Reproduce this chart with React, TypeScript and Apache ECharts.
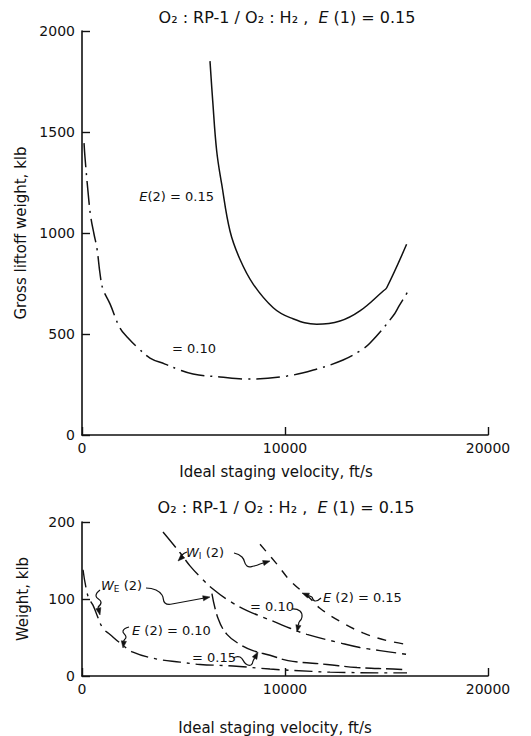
import React, { useEffect, useRef } from "react";
import * as echarts from "echarts";

// ---------- data ----------
const xTickValues = [0, 10000, 20000];
const topYTickValues = [0, 500, 1000, 1500, 2000];
const bottomYTickValues = [0, 100, 200];

const titleText = "O₂ : RP-1 / O₂ : H₂ ,  {i|E} (1) = 0.15";
const xAxisName = "Ideal staging velocity, ft/s";
const topYAxisName = "Gross liftoff weight, klb";
const bottomYAxisName = "Weight, klb";

// Top chart: gross liftoff weight
const topVel015 = [6305, 6440, 6635, 6880, 7290, 7780, 8440, 9420, 10250, 11560, 12710, 13690, 14840, 15010, 15990];
const topW015 = [1851, 1653, 1406, 1243, 1010, 870, 746, 630, 581, 548, 564, 614, 713, 729, 944];

const topVel010 = [100, 150, 340, 440, 590, 740, 890, 1030, 1380, 1870, 2270, 2760, 3350, 4090, 4680, 5470, 6800, 8130, 10100, 11580, 12860, 13690, 14190, 15320, 15620, 16160];
const topW010 = [1445, 1371, 1158, 1074, 995, 921, 797, 723, 649, 530, 480, 431, 381, 351, 327, 302, 287, 277, 292, 327, 371, 416, 455, 589, 639, 728];

// Bottom chart: inert weight W_I(2) and engine weight W_E(2)
const wiVel015 = [8770, 9610, 10250, 11230, 11720, 12710, 13840, 15020, 16010];
const wiW015 = [171, 145, 124, 101, 88, 71, 56, 46, 41];

const wiVel010 = [3990, 4830, 5320, 5810, 6450, 7290, 8130, 9610, 10250, 11080, 12710, 13690, 14680, 16010];
const wiW010 = [187, 160, 143, 129, 113, 97, 85, 69, 62, 54, 43, 37, 33, 28];

const weVel015 = [6400, 6700, 7140, 7780, 8420, 9260, 10150, 12070, 13550, 15320, 16010];
const weW015 = [107, 75, 54, 41, 33, 27, 20, 15, 11, 9, 8];

const weVel010 = [50, 300, 540, 740, 1030, 1380, 1870, 2510, 3690, 4830, 5810, 7440, 9260, 11330, 12220, 15170, 16010];
const weW010 = [138, 103, 92, 79, 62, 54, 43, 31, 22, 18, 15, 13, 9, 6, 5, 4, 4];

const pairs = (xs: number[], ys: number[]) => xs.map((x, i) => [x, ys[i]]);

const FONT = "DejaVu Sans";
const INK = "#111";

function squiggle(points: number[][], tip: number[]) {
  const from = points[points.length - 1];
  const dx = tip[0] - from[0];
  const dy = tip[1] - from[1];
  const len = Math.sqrt(dx * dx + dy * dy) || 1;
  const ux = dx / len, uy = dy / len;
  const L = 7, W = 2.6;
  const bx = tip[0] - ux * L, by = tip[1] - uy * L;
  return [
    {
      type: "polyline",
      shape: { points, smooth: 0.5 },
      style: { stroke: INK, lineWidth: 1.2, fill: null },
      silent: true,
    },
    {
      type: "line",
      shape: { x1: from[0], y1: from[1], x2: bx, y2: by },
      style: { stroke: INK, lineWidth: 1.2 },
      silent: true,
    },
    {
      type: "polygon",
      shape: {
        points: [tip, [bx - uy * W, by + ux * W], [bx + uy * W, by - ux * W]],
      },
      style: { fill: INK, stroke: INK, lineWidth: 0.5 },
      silent: true,
    },
  ];
}

function label(x: number, y: number, text: string, align = "left", size = 13) {
  return {
    type: "text",
    x,
    y,
    silent: true,
    style: {
      text,
      fill: INK,
      font: `${size}px ${FONT}`,
      textAlign: align,
      textVerticalAlign: "middle",
      rich: {
        i: { fontStyle: "italic", fontSize: size, fontFamily: FONT },
        s: { fontSize: 9, fontFamily: FONT, padding: [7, 0, 0, 0] },
      },
    },
  };
}

const plain = (v: number) => String(v);

export default function App() {
  const ref = useRef<HTMLDivElement>(null);
  useEffect(() => {
    if (!ref.current) return;
    const chart = echarts.init(ref.current, undefined, { renderer: "svg" });

    const axisCommon = {
      axisLine: { show: true, lineStyle: { color: INK, width: 1.6 } },
      axisTick: { show: true, inside: true, length: 8, lineStyle: { color: INK, width: 1.4 } },
      splitLine: { show: false },
      axisLabel: { color: INK, fontFamily: FONT, fontSize: 14, formatter: plain },
      nameTextStyle: { color: INK, fontFamily: FONT, fontSize: 15 },
    };

    const titleStyle = {
      color: INK, fontFamily: FONT, fontSize: 16, fontWeight: "normal",
      rich: { i: { fontStyle: "italic", fontSize: 16, fontFamily: FONT, color: INK } },
    };

    const option: any = {
      animation: false,
      backgroundColor: "#fff",
      textStyle: { fontFamily: FONT },
      title: [
        { text: titleText, left: 282, top: 4, textAlign: "center", textStyle: titleStyle },
        { text: titleText, left: 281, top: 494, textAlign: "center", textStyle: titleStyle },
      ],
      grid: [
        { left: 82, top: 31, width: 406, height: 404 },
        { left: 82, top: 522, width: 406, height: 157 },
      ],
      xAxis: [
        {
          ...axisCommon,
          gridIndex: 0,
          type: "value",
          min: xTickValues[0],
          max: xTickValues[xTickValues.length - 1],
          interval: xTickValues[1] - xTickValues[0],
          name: xAxisName,
          nameLocation: "middle",
          nameGap: 29,
          nameTextStyle: { ...axisCommon.nameTextStyle, padding: [0, 18, 0, 0] },
          axisLabel: { ...axisCommon.axisLabel, margin: 6 },
        },
        {
          ...axisCommon,
          gridIndex: 1,
          type: "value",
          min: xTickValues[0],
          max: xTickValues[xTickValues.length - 1],
          interval: xTickValues[1] - xTickValues[0],
          name: xAxisName,
          nameLocation: "middle",
          nameGap: 44,
          nameTextStyle: { ...axisCommon.nameTextStyle, padding: [0, 20, 0, 0] },
          axisLabel: { ...axisCommon.axisLabel, margin: 6 },
        },
      ],
      yAxis: [
        {
          ...axisCommon,
          gridIndex: 0,
          type: "value",
          min: topYTickValues[0],
          max: topYTickValues[topYTickValues.length - 1],
          interval: topYTickValues[1] - topYTickValues[0],
          name: topYAxisName,
          nameLocation: "middle",
          nameGap: 52,
          axisLabel: { ...axisCommon.axisLabel, margin: 7 },
        },
        {
          ...axisCommon,
          gridIndex: 1,
          type: "value",
          min: bottomYTickValues[0],
          max: bottomYTickValues[bottomYTickValues.length - 1],
          interval: bottomYTickValues[1] - bottomYTickValues[0],
          name: bottomYAxisName,
          nameLocation: "middle",
          nameGap: 52,
          axisLabel: { ...axisCommon.axisLabel, margin: 7 },
        },
      ],
      series: [
        {
          name: "E(2) = 0.15",
          type: "line",
          xAxisIndex: 0,
          yAxisIndex: 0,
          data: pairs(topVel015, topW015),
          showSymbol: false,
          smooth: 0.4,
          lineStyle: { color: INK, width: 1.5, type: "solid" },
        },
        {
          name: "E(2) = 0.10",
          type: "line",
          xAxisIndex: 0,
          yAxisIndex: 0,
          data: pairs(topVel010, topW010),
          showSymbol: false,
          smooth: 0.4,
          lineStyle: { color: INK, width: 1.5, type: [24, 6, 2, 6] },
        },
        {
          name: "W_I(2) E(2) = 0.15",
          type: "line",
          xAxisIndex: 1,
          yAxisIndex: 1,
          data: pairs(wiVel015, wiW015),
          showSymbol: false,
          smooth: 0.4,
          lineStyle: { color: INK, width: 1.4, type: [9, 8] },
        },
        {
          name: "W_I(2) E(2) = 0.10",
          type: "line",
          xAxisIndex: 1,
          yAxisIndex: 1,
          data: pairs(wiVel010, wiW010),
          showSymbol: false,
          smooth: 0.4,
          lineStyle: { color: INK, width: 1.4, type: [20, 6, 4, 6] },
        },
        {
          name: "W_E(2) E(2) = 0.15",
          type: "line",
          xAxisIndex: 1,
          yAxisIndex: 1,
          data: pairs(weVel015, weW015),
          showSymbol: false,
          smooth: 0.4,
          lineStyle: { color: INK, width: 1.4, type: [16, 5] },
        },
        {
          name: "W_E(2) E(2) = 0.10",
          type: "line",
          xAxisIndex: 1,
          yAxisIndex: 1,
          data: pairs(weVel010, weW010),
          showSymbol: false,
          smooth: 0.4,
          lineStyle: { color: INK, width: 1.4, type: [18, 6, 3, 6] },
        },
      ],
      graphic: [
        // top chart labels
        label(214, 196, "{i|E}(2) = 0.15", "right", 13),
        label(172, 348, "= 0.10", "left", 13),
        // bottom chart labels
        label(186, 552, "{i|W}{s|I} (2)", "left", 13),
        label(101, 585, "{i|W}{s|E} (2)", "left", 13),
        label(132, 630, "{i|E} (2) = 0.10", "left", 13),
        label(192, 657, "= 0.15", "left", 13),
        label(250, 606, "= 0.10", "left", 13),
        label(323, 597, "{i|E} (2) = 0.15", "left", 13),
        // W_I(2) curls
        ...squiggle([[187, 552], [182, 555], [181, 558]], [178, 561]),
        ...squiggle([[234, 553], [242, 557], [247, 566], [254, 566], [260, 564]], [270, 561]),
        // W_E(2) curls
        ...squiggle([[146, 588], [156, 590], [162, 595], [165, 603], [172, 604]], [210, 597]),
        ...squiggle([[100, 590], [96, 596], [101, 602], [98, 607]], [100, 615]),
        // E(2)=0.10 curl
        ...squiggle([[129, 627], [123, 631], [126, 637], [124, 640]], [123, 648]),
        // =0.15 curl
        ...squiggle([[233, 658], [240, 657], [246, 664], [251, 665], [253, 661]], [258, 652]),
        // =0.10 curl
        ...squiggle([[292, 609], [300, 611], [302, 617], [299, 622]], [297, 632]),
        // E(2)=0.15 curl
        ...squiggle([[321, 598], [315, 601], [312, 597]], [302, 593]),
      ],
    };

    chart.setOption(option);
    return () => chart.dispose();
  }, []);

  return (
    <div
      ref={ref}
      style={{ position: "fixed", left: 0, top: 0, width: 531, height: 736, background: "#fff" }}
    />
  );
}
